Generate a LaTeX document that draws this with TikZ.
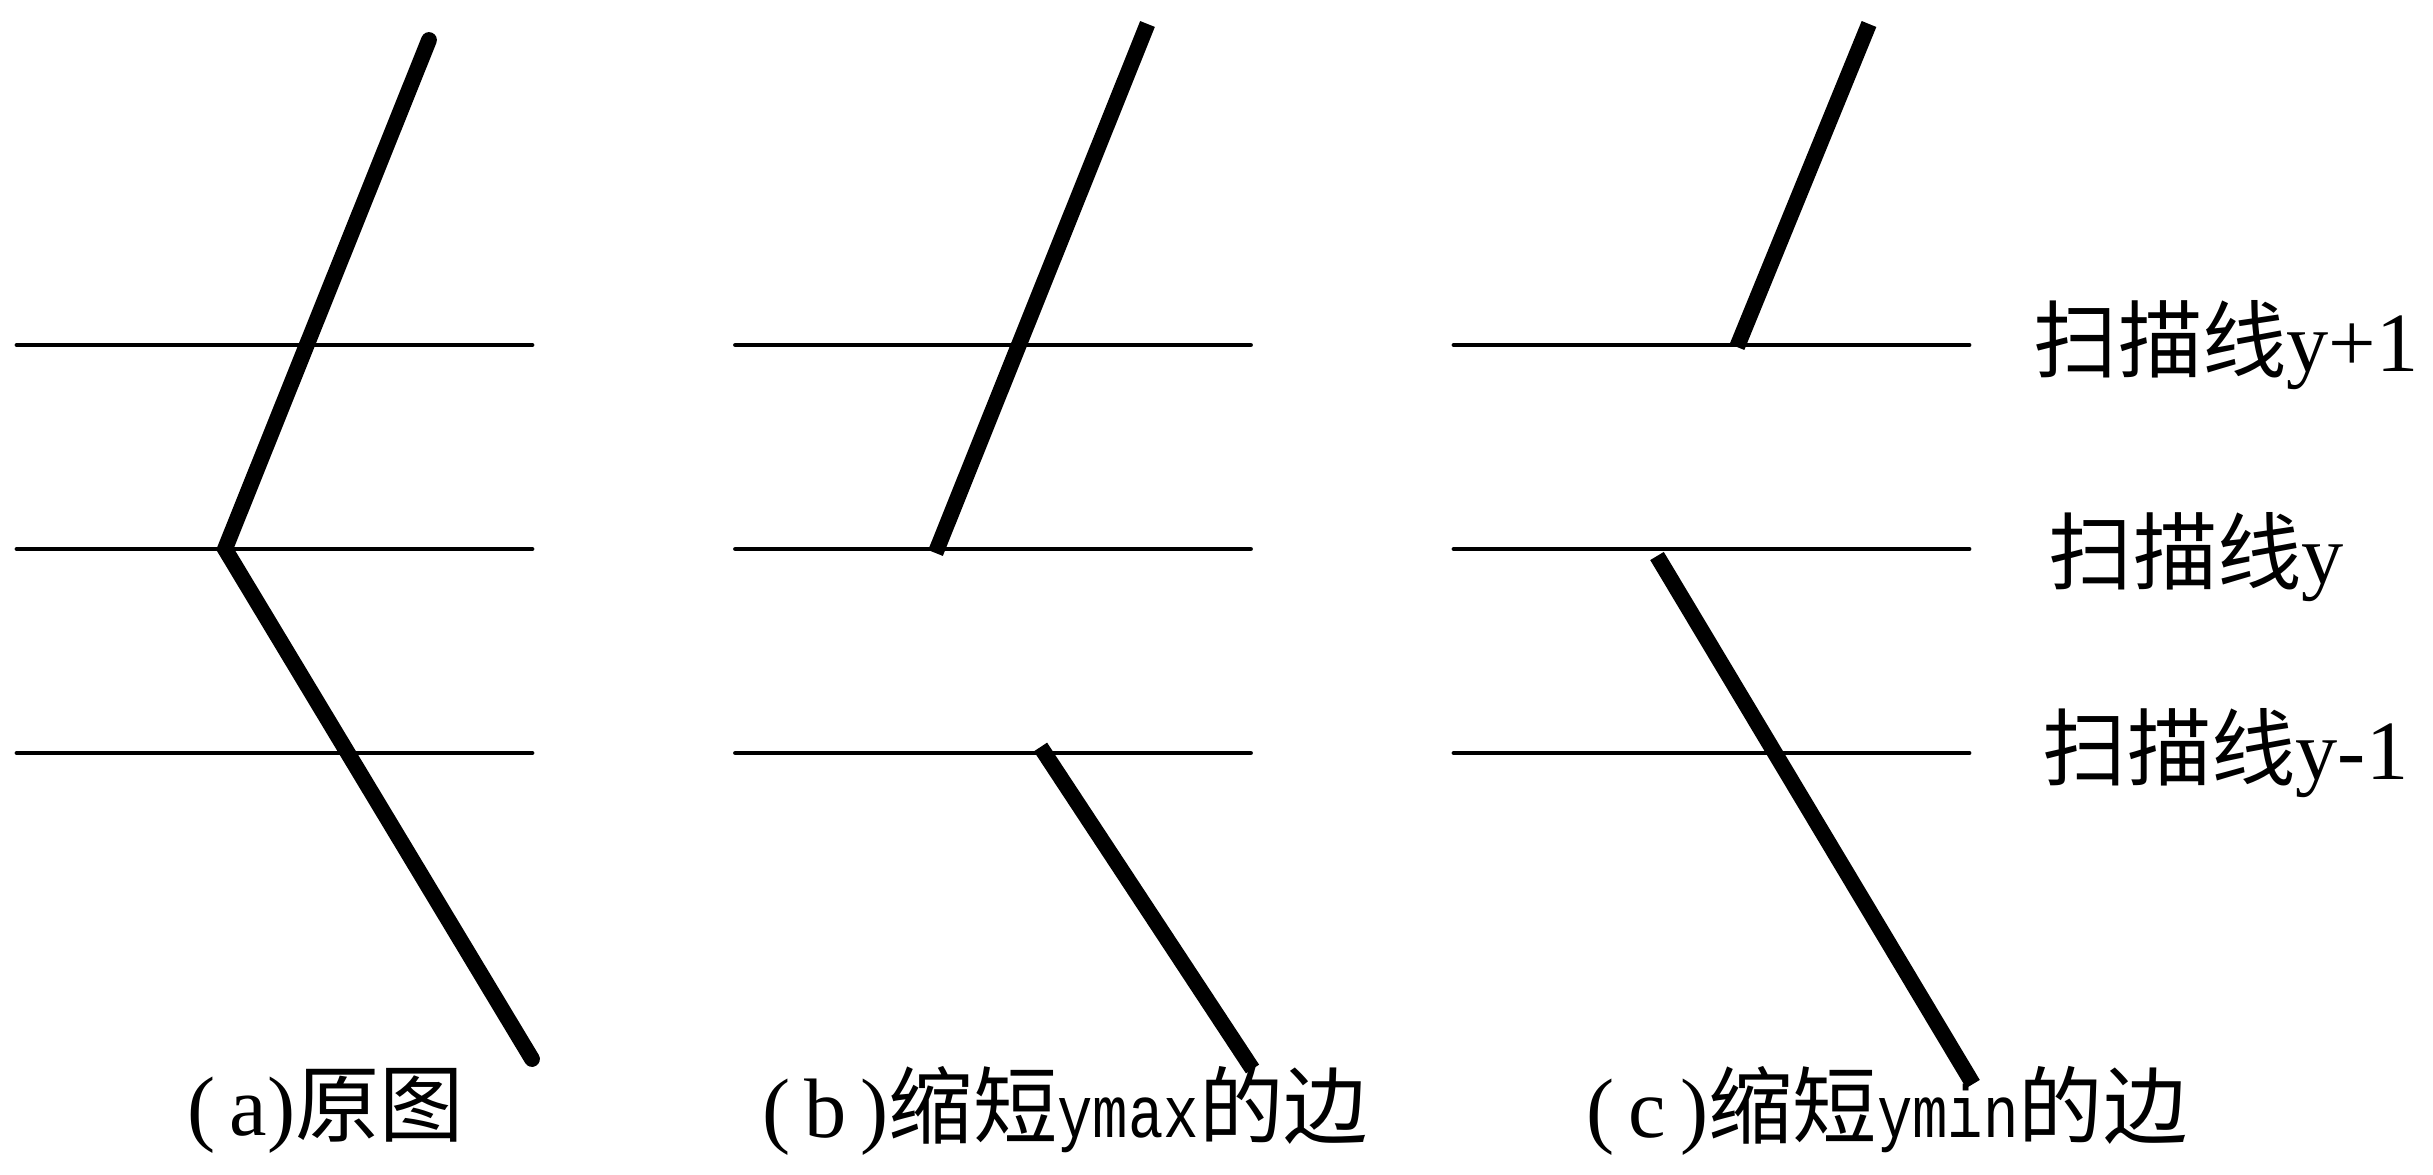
\documentclass[tikz,border=0pt]{standalone}
\usepackage{fontspec}
\usepackage{graphicx}
\setmainfont{Liberation Serif}
\setmonofont{Liberation Mono}
\newfontfamily\cjk{Noto Sans CJK SC}

\begin{document}
\begin{tikzpicture}[
    scanline/.style={line width=1.4pt, line cap=round},
    edgeline/.style={line width=4.5pt},
    lbl/.style={anchor=west, inner sep=0pt, font=\fontsize{24}{28}\selectfont},
    figcap/.style={inner sep=0pt, font=\fontsize{24}{28}\selectfont}
  ]

	\useasboundingbox (0,0) rectangle (24.33,11.74);

	% Panel offsets and scan line heights
	\def\panelw{5.15}
	\def\xa{0}
	\def\xb{7.185}
	\def\xc{14.37}
	\def\yup{8.29}
	\def\ymid{6.25}
	\def\ylow{4.21}
	\newcommand\ysub[1]{\scalebox{0.8}[1]{\ttfamily\fontsize{21}{25}\selectfont #1}}

	% Scan lines
	\foreach \ofs in {\xa,\xb,\xc} {
		\foreach \y in {\yup,\ymid,\ylow}
			\draw[scanline] (\ofs + 0.17, \y) -- (\ofs + 0.17 + \panelw, \y);
	}

	% (a) original edges
	\draw[edgeline, line cap=round] (\xa + 4.29, 11.34) -- (\xa + 2.25, \ymid) -- (\xa + 5.32, 1.15);

	% (b) upper edge shortened at ymax
	\draw[edgeline] (\xb + 4.29, 11.50) -- (\xb + 2.17, 6.21);
	\draw[edgeline] (\xb + 3.22, 4.27) -- (\xb + 5.34, 1.05);

	% (c) lower edge shortened at ymin
	\draw[edgeline] (\xc + 4.32, 11.50) -- (\xc + 3.00, 8.27);
	\draw[edgeline] (\xc + 2.20, 6.18) -- (\xc + 5.36, 0.90);

	% Labels
	\node[lbl] (lblup) at (20.33, \yup) {{\cjk 扫描线}y+1};
	\node[lbl] (lblmid) at (20.48, 6.17) {{\cjk 扫描线}y};
	\node[lbl] (lbllow) at (20.42, \ylow) {{\cjk 扫描线}y-1};

	\node[figcap] (capa) at (3.26, 0.63) {(\,a){\cjk 原图}};
	\node[figcap] (capb) at (10.65, 0.63) {(\,b\,){\cjk 缩短}\ysub{ymax}{\cjk 的边}};
	\node[figcap] (capc) at (18.87, 0.63) {(\,c\,){\cjk 缩短}\ysub{ymin}{\cjk 的边}};

\end{tikzpicture}
\end{document}
